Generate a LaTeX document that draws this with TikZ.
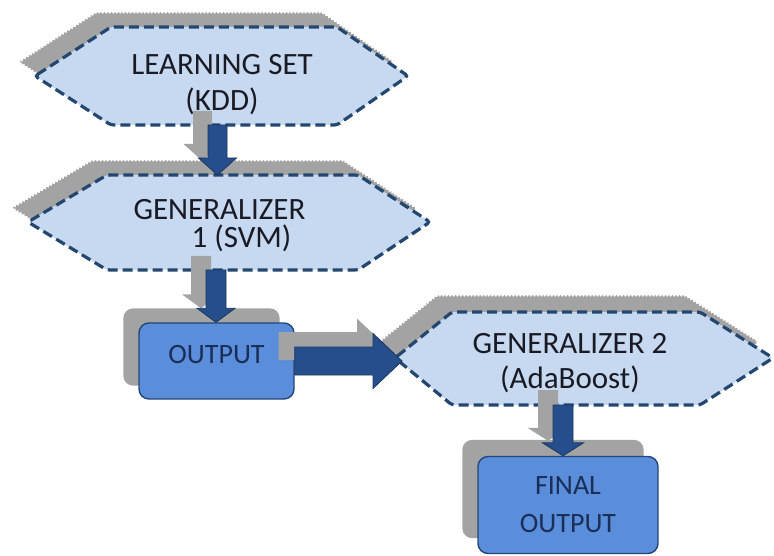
\documentclass[tikz,border=0pt]{standalone}
\usepackage{fontspec}
\setmainfont{Carlito}
\usetikzlibrary{calc,decorations.pathmorphing}

\definecolor{hexfill}{HTML}{C6D9F0}
\definecolor{hexline}{HTML}{24476F}
\definecolor{boxfill}{HTML}{5A8DDA}
\definecolor{boxline}{HTML}{25467A}
\definecolor{arrowblue}{HTML}{264E8C}
\definecolor{arrowline}{HTML}{1B365F}
\definecolor{shade}{HTML}{A3A3A3}
\definecolor{hextextc}{HTML}{1A1A24}
\definecolor{boxtextc}{HTML}{1A2E58}

\pgfdeclarelayer{bg}
\pgfsetlayers{bg,main}

% hexagon: style, left tip x, tip y, inner left x, inner right x, right tip x, top y, bottom y
\newcommand\hexfig[8]{%
  \path[#1] (#2,#3) -- (#4,#7) -- (#5,#7) -- (#6,#3) -- (#5,#8) -- (#4,#8) -- cycle;}

% downward block arrow: style, from, to, half shaft, half head, head length, dx, dy
\newcommand\varrow[8]{%
  \path[#1] let \p1=(#2), \p2=(#3) in
    (\x1-#4+#7,\y1+#8) -- (\x1-#4+#7,\y2+#6+#8) -- (\x1-#5+#7,\y2+#6+#8) --
    (\x1+#7,\y2+#8) -- (\x1+#5+#7,\y2+#6+#8) -- (\x1+#4+#7,\y2+#6+#8) --
    (\x1+#4+#7,\y1+#8) -- cycle;}

% rightward block arrow: style, from, to, half shaft, half head, head length, dx, dy
\newcommand\harrow[8]{%
  \path[#1] let \p1=(#2), \p2=(#3) in
    (\x1+#7,\y1+#4+#8) -- (\x2-#6+#7,\y1+#4+#8) -- (\x2-#6+#7,\y1+#5+#8) --
    (\x2+#7,\y1+#8) -- (\x2-#6+#7,\y1-#5+#8) -- (\x2-#6+#7,\y1-#4+#8) --
    (\x1+#7,\y1-#4+#8) -- cycle;}

\begin{document}
\begin{tikzpicture}[x=1pt,y=-1pt,
  hexshape/.style={fill=hexfill, draw=hexline, line width=3.2pt,
    dash pattern=on 10pt off 5pt, rounded corners=3pt},
  hexshadow/.style={fill=shade, decorate,
    decoration={zigzag, segment length=3.5pt, amplitude=1pt}},
  boxshape/.style={fill=boxfill, draw=boxline, line width=1.4pt,
    rounded corners=10pt, inner sep=0pt, text=boxtextc, align=center,
    font=\fontsize{28}{38}\selectfont},
  boxshadow/.style={fill=shade, rounded corners=10pt},
  blk/.style={fill=arrowblue, draw=arrowline, line width=0.8pt},
  blkshadow/.style={fill=shade},
  hextext/.style={align=center, inner sep=0pt, text=hextextc},
]
\useasboundingbox (0,0) rectangle (774,556);

% shadows behind the hexagons
\begin{scope}[shift={(-15,-14)}]
  \hexfig{hexshadow}{35}{76}{111}{337}{408}{27}{125}
  \hexfig{hexshadow}{28}{222}{107}{358}{430}{175}{270}
\end{scope}
\begin{scope}[shift={(-15,-16)}]
  \hexfig{hexshadow}{395}{358}{452}{700}{773}{312}{405}
\end{scope}

% hexagons
\hexfig{hexshape}{35}{76}{111}{337}{408}{27}{125}
\hexfig{hexshape}{28}{222}{107}{358}{430}{175}{270}
\hexfig{hexshape}{395}{358}{452}{700}{773}{312}{405}

% connection points on the hexagons
\coordinate (h1b) at (217.5,125);
\coordinate (h2t) at (217.5,175);
\coordinate (h2b) at (216,270);
\coordinate (h3l) at (402,359);
\coordinate (h3b) at (563,405);

% hexagon labels
\node[hextext, font=\fontsize{31}{36}\selectfont] (learn) at (222,85)
  {LEARNING SET\\(KDD)};
\node[hextext, font=\fontsize{31}{28}\selectfont] (gen1) at (219.5,226)
  {GENERALIZER\\\hspace*{44pt}1 (SVM)};
\node[hextext, font=\fontsize{31}{35}\selectfont] (gen2) at (570,363)
  {GENERALIZER 2\\(AdaBoost)};

% output boxes
\node[boxshape, minimum width=155pt, minimum height=76pt,
  text height=20pt, text depth=16pt] (out1) at (216.5,361) {OUTPUT};
\node[boxshape, minimum width=180pt, minimum height=97pt] (out2) at (568,505)
  {FINAL\\OUTPUT};

\begin{pgfonlayer}{bg}
  \path[boxshadow] ($(out1.south west)+(-15,-14)$) rectangle ($(out1.north east)+(-15,-14)$);
  \path[boxshadow] ($(out2.south west)+(-15,-16)$) rectangle ($(out2.north east)+(-15,-16)$);
\end{pgfonlayer}

% arrow shadows
\varrow{blkshadow}{h1b}{h2t}{9.5pt}{19pt}{17pt}{-15pt}{14pt}
\varrow{blkshadow}{h2b}{out1.north}{10pt}{19pt}{14pt}{-15pt}{14pt}
\harrow{blkshadow}{out1.east}{h3l}{14pt}{27.5pt}{29pt}{-16pt}{15pt}
\varrow{blkshadow}{h3b}{h3b |- out2.north}{10pt}{20.5pt}{13pt}{-15pt}{15pt}

% arrows
\varrow{blk}{h1b}{h2t}{9.5pt}{19pt}{17pt}{0pt}{0pt}
\varrow{blk}{h2b}{out1.north}{10pt}{19pt}{14pt}{0pt}{0pt}
\harrow{blk}{out1.east}{h3l}{14pt}{27.5pt}{29pt}{0pt}{0pt}
\varrow{blk}{h3b}{h3b |- out2.north}{10pt}{20.5pt}{13pt}{0pt}{0pt}
\end{tikzpicture}
\end{document}
